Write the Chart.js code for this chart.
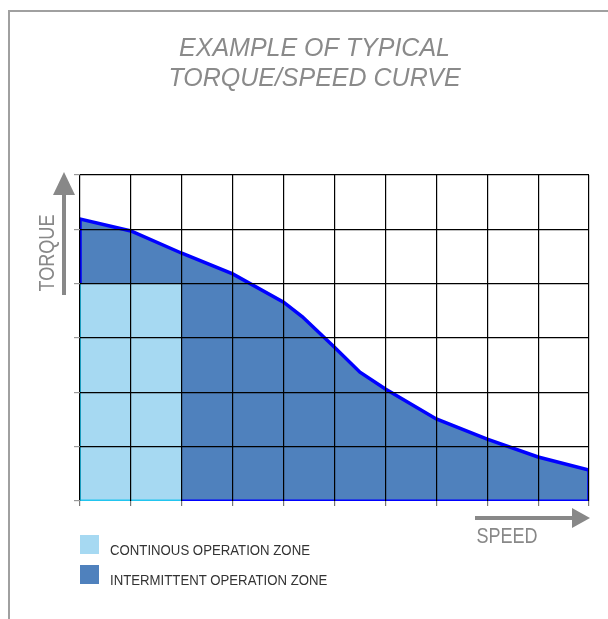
<!DOCTYPE html>
<html>
<head>
<meta charset="utf-8">
<script src="https://cdn.jsdelivr.net/npm/chart.js@4"></script>
<style>
  html, body { margin: 0; padding: 0; background: #fff; }
  #wrap { position: relative; width: 608px; height: 619px; overflow: hidden; }
  #frame { position: absolute; left: 8px; top: 10px; width: 700px; height: 700px;
           border-left: 2px solid #a0a0a0; border-top: 2px solid #a0a0a0; }
  #chart { position: absolute; left: 0; top: 0; }
  #legend { position: absolute; left: 80px; top: 535px;
            font-family: 'Liberation Sans', sans-serif;
            font-size: 15px; color: #333; }
  #legend .item { display: flex; align-items: center; height: 19px; margin-bottom: 11px; white-space: nowrap; }
  #legend .box { width: 19px; height: 19px; margin-right: 11px; flex: none; }
  #legend span { display: inline-block; position: relative; top: 5px;
                 transform: scaleX(0.88); transform-origin: left center; }
</style>
</head>
<body>
<div id="wrap">
  <div id="frame"></div>
  <canvas id="chart" width="608" height="619"></canvas>
  <div id="legend"></div>
</div>
<script>
(() => {
    // 曲線資料（轉速 / 扭力）
    const speed  = [0, 0, 1, 2, 3, 4, 4.37, 5, 5.5, 6, 7, 8, 9, 10, 10];
    const torque = [4, 5.19, 4.97, 4.56, 4.18, 3.66, 3.39, 2.83, 2.37, 2.06, 1.51, 1.14, 0.81, 0.57, 0];

    // 連續運轉區
    const contSpeed  = [0, 0, 2, 2];
    const contTorque = [0, 4, 4, 0];

    // 底線
    const baseSpeed  = [0, 2, 10];
    const baseTorque = [0, 0, 0];

    const zoneNames  = ["CONTINOUS OPERATION ZONE", "INTERMITTENT OPERATION ZONE"];
    const zoneColors = ["#a6d9f2", "#4f81bd"];

    const xMax = 10, yMax = 6;
    const sans = "'Liberation Sans', sans-serif";

    const pts = (xs, ys) => xs.map((x, i) => ({ x, y: ys[i] }));

    // 窄字：水平壓縮
    function narrowText(ctx, text, x, y, rot) {
        ctx.save();
        ctx.translate(x, y);
        if (rot) ctx.rotate(rot);
        ctx.scale(0.82, 1);
        ctx.fillText(text, 0, 0);
        ctx.restore();
    }

    // 箭頭與軸名
    const arrowPlugin = {
        id: "arrows",
        afterDraw(chart) {
            const { ctx, chartArea: a } = chart;
            ctx.save();
            ctx.fillStyle = "#888";
            // Y 箭頭
            const ax = a.left - 16;
            ctx.fillRect(ax - 2, a.top + 18, 4, 102);
            ctx.beginPath();
            ctx.moveTo(ax, a.top - 3);
            ctx.lineTo(ax + 11, a.top + 20);
            ctx.lineTo(ax - 11, a.top + 20);
            ctx.closePath();
            ctx.fill();
            // X 箭頭
            const ay = a.bottom + 17;
            ctx.fillRect(a.right - 114, ay - 2, 98, 4);
            ctx.beginPath();
            ctx.moveTo(a.right + 1, ay);
            ctx.lineTo(a.right - 17, ay - 10);
            ctx.lineTo(a.right - 17, ay + 10);
            ctx.closePath();
            ctx.fill();
            // 文字
            ctx.font = "22px " + sans;
            ctx.textAlign = "center";
            ctx.textBaseline = "middle";
            narrowText(ctx, "SPEED", a.right - 82, a.bottom + 36, 0);
            narrowText(ctx, "TORQUE", a.left - 32, a.top + 78, -Math.PI / 2);
            ctx.restore();
        }
    };

    const gridColor = c => c.tick && c.tick.value === 0 ? "transparent" : "#000";

    new Chart(document.getElementById("chart"), {
        type: "line",
        data: {
            datasets: [
                {
                    label: "base",
                    data: pts(baseSpeed, baseTorque),
                    borderWidth: 3,
                    pointRadius: 0,
                    fill: false,
                    segment: {
                        borderColor: c => c.p0DataIndex === 0 ? "#22c5ef" : "#0000ff"
                    }
                },
                {
                    label: zoneNames[0],
                    data: pts(contSpeed, contTorque),
                    backgroundColor: zoneColors[0],
                    borderWidth: 2,
                    pointRadius: 0,
                    fill: "origin",
                    segment: {
                        borderColor: c => c.p0DataIndex === 0 ? "#22c5ef" : "transparent"
                    }
                },
                {
                    label: zoneNames[1],
                    data: pts(speed, torque),
                    backgroundColor: zoneColors[1],
                    borderColor: "#0000ff",
                    borderWidth: 3.5,
                    pointRadius: 0,
                    tension: 0,
                    fill: "origin"
                }
            ]
        },
        options: {
            responsive: false,
            animation: false,
            layout: { padding: { left: 40, right: 19, top: 34, bottom: 113 } },
            plugins: {
                legend: { display: false },
                tooltip: { enabled: false },
                title: {
                    display: true,
                    text: ["EXAMPLE OF TYPICAL", "TORQUE/SPEED CURVE"],
                    color: "#8a8a8a",
                    font: { family: sans, size: 25, style: "italic", weight: "normal", lineHeight: 1.2 },
                    padding: { top: 0, bottom: 81 }
                }
            },
            scales: {
                x: {
                    type: "linear",
                    min: 0, max: xMax,
                    border: { display: false },
                    ticks: { display: false, stepSize: 1 },
                    grid: { z: 1, color: "#000", lineWidth: 1.2, tickLength: 5, tickColor: "#777" }
                },
                y: {
                    type: "linear",
                    min: 0, max: yMax,
                    border: { display: false },
                    ticks: { display: false, stepSize: 1 },
                    afterFit: s => { s.width = 40; },
                    grid: { z: 1, color: gridColor, lineWidth: 1.2, tickLength: 6, tickColor: "#999" }
                }
            }
        },
        plugins: [arrowPlugin]
    });

    // 圖例
    const legend = document.getElementById("legend");
    zoneNames.forEach((name, i) => {
        const row = document.createElement("div");
        row.className = "item";
        row.innerHTML = `<div class="box" style="background:${zoneColors[i]}"></div><span>${name}</span>`;
        legend.appendChild(row);
    });
})();
</script>
</body>
</html>
